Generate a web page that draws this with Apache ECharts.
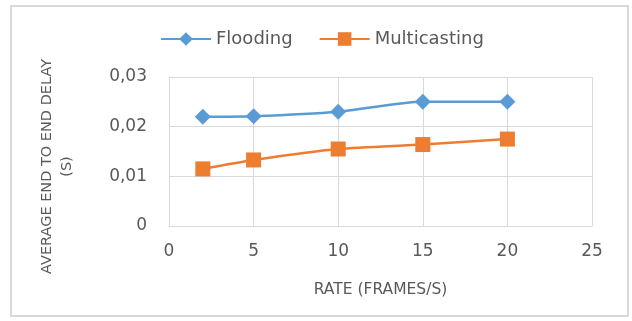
<!DOCTYPE html>
<html><head><meta charset="utf-8">
<script src="https://cdn.jsdelivr.net/npm/echarts@6/dist/echarts.min.js"></script>
<style>html,body{margin:0;padding:0;background:#fff}#c{width:632px;height:321px}</style>
</head><body><div id="c"></div>
<script>
const rates = [2, 5, 10, 15, 20];
const flooding = [0.022, 0.0221, 0.023, 0.025, 0.025];
const multicasting = [0.0115, 0.0133, 0.0155, 0.0164, 0.0175];
const seriesNames = ['Flooding', 'Multicasting'];
const xTitle = 'RATE (FRAMES/S)';
const yTitle = 'AVERAGE END TO END DELAY\n(S)';

const font = 'DejaVu Sans';
const txt = '#595959';
const chart = echarts.init(document.getElementById('c'));
chart.setOption({
  animation: false,
  textStyle: {fontFamily: font},
  graphic: [{type: 'rect', shape: {x: 11, y: 6, width: 617, height: 310}, style: {fill: 'none', stroke: '#d9d9d9', lineWidth: 2}}],
  legend: {
    top: 25, left: 155, itemGap: 26, itemWidth: 50, itemHeight: 17,
    textStyle: {color: txt, fontSize: 18, fontFamily: font},
    data: seriesNames
  },
  grid: {left: 169, right: 40, top: 77, bottom: 95},
  xAxis: {
    type: 'value', min: 0, max: 25, interval: 5,
    name: xTitle, nameLocation: 'middle', nameGap: 56,
    nameTextStyle: {color: txt, fontSize: 15.5, fontFamily: font},
    axisLine: {show: true, lineStyle: {color: '#d9d9d9'}},
    axisTick: {show: false},
    axisLabel: {color: txt, fontSize: 17, margin: 17},
    splitLine: {show: true, lineStyle: {color: '#d9d9d9', width: 1}}
  },
  yAxis: {
    type: 'value', min: 0, max: 0.03, interval: 0.01,
    name: yTitle, nameLocation: 'middle', nameGap: 92, nameRotate: 90,
    nameTextStyle: {color: txt, fontSize: 14.5, fontFamily: font, lineHeight: 20, align: 'center', padding: [0, 30, 0, 0]},
    axisLine: {show: false}, axisTick: {show: false},
    axisLabel: {color: txt, fontSize: 17, margin: 22, formatter: v => v === 0 ? '0' : v.toFixed(2).replace('.', ',')},
    splitLine: {show: true, lineStyle: {color: '#d9d9d9', width: 1}}
  },
  series: [
    {name: seriesNames[0], type: 'line', smooth: 0.25, data: rates.map((r, i) => [r, flooding[i]]),
     symbol: 'diamond', symbolSize: 16, lineStyle: {width: 2.5, color: '#5b9bd5'}, itemStyle: {color: '#5b9bd5'}},
    {name: seriesNames[1], type: 'line', smooth: 0.25, data: rates.map((r, i) => [r, multicasting[i]]),
     symbol: 'rect', symbolSize: 15, lineStyle: {width: 2.5, color: '#ed7d31'}, itemStyle: {color: '#ed7d31'}}
  ]
});
</script></body></html>
